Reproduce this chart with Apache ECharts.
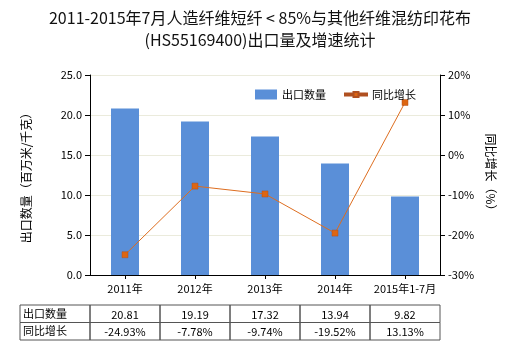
<!DOCTYPE html>
<html><head><meta charset="utf-8">
<script src="https://cdn.jsdelivr.net/npm/echarts@6/dist/echarts.min.js"></script>
<style>html,body{margin:0;padding:0;background:#fff}#c{width:520px;height:350px}</style>
</head><body><div id="c"></div>
<script>
var categories = ['2011年','2012年','2013年','2014年','2015年1-7月'];
var exportQty = [20.81, 19.19, 17.32, 13.94, 9.82];
var yoyGrowth = [-24.93, -7.78, -9.74, -19.52, 13.13];
var qtyLabels = ['20.81','19.19','17.32','13.94','9.82'];
var yoyLabels = ['-24.93%','-7.78%','-9.74%','-19.52%','13.13%'];
var seriesNames = ['出口数量','同比增长'];

var font = '"Noto Sans CJK SC", sans-serif';
var chart = echarts.init(document.getElementById('c'));
var G = {left: 90, top: 75, width: 350, height: 200};
var tableTop = 305, rowH = 17.5, firstColLeft = 20;

var graphics = [];
var cellW = G.width / categories.length;
var rows = [[seriesNames[0], qtyLabels], [seriesNames[1], yoyLabels]];
rows.forEach(function(r, i){
  var y = tableTop + i*rowH;
  graphics.push({type:'rect', shape:{x:firstColLeft, y:y, width:G.left-firstColLeft, height:rowH}, style:{fill:'none', stroke:'#555', lineWidth:1}});
  graphics.push({type:'text', style:{text:r[0], x:firstColLeft+3, y:y+rowH/2, textVerticalAlign:'middle', font:'11px '+font, fill:'#000'}});
  r[1].forEach(function(t, j){
    var x = G.left + j*cellW;
    graphics.push({type:'rect', shape:{x:x, y:y, width:cellW, height:rowH}, style:{fill:'none', stroke:'#555', lineWidth:1}});
    graphics.push({type:'text', style:{text:t, x:x+cellW/2, y:y+rowH/2+1, textAlign:'center', textVerticalAlign:'middle', font:'11px '+font, fill:'#000'}});
  });
});

var lineIcon = 'path://M0,1.5 L8.5,1.5 L8.5,0 L13.5,0 L13.5,1.5 L22,1.5 L22,3.5 L13.5,3.5 L13.5,5 L8.5,5 L8.5,3.5 L0,3.5 Z';

chart.setOption({
  animation:false,
  title:{text:'2011-2015年7月人造纤维短纤 < 85%与其他纤维混纺印花布\n(HS55169400)出口量及增速统计', left:'center', top:2,
    textStyle:{fontSize:16, fontWeight:'normal', color:'#111', fontFamily:font, lineHeight:22}},
  legend:{top:84, left:250, itemGap:18, itemWidth:22, itemHeight:10, symbolKeepAspect:true,
    textStyle:{fontSize:11, color:'#000', fontFamily:font},
    data:[{name:seriesNames[0], icon:'rect'}, {name:seriesNames[1], icon:lineIcon}]},
  grid:G,
  xAxis:{type:'category', data:categories,
    axisLine:{lineStyle:{color:'#000'}}, axisTick:{show:true, alignWithLabel:true, length:4, lineStyle:{color:'#000'}},
    axisLabel:{interval:0, fontSize:11, color:'#000', fontFamily:font, margin:8}},
  yAxis:[
    {type:'value', min:0, max:25, interval:5, name:'出口数量（百万米/千克）', nameLocation:'middle', nameRotate:90, nameGap:58,
     nameTextStyle:{fontSize:12, color:'#000', fontFamily:font},
     axisLine:{show:true, lineStyle:{color:'#000'}}, axisTick:{show:true, length:5, lineStyle:{color:'#000'}},
     axisLabel:{formatter:function(v){return v.toFixed(1);}, fontSize:11, color:'#000', fontFamily:font},
     splitLine:{lineStyle:{color:'#ebebdc', type:'solid'}}},
    {type:'value', min:-30, max:20, interval:10, name:'同比增长（%）', nameLocation:'middle', nameRotate:-90, nameGap:42,
     nameTextStyle:{fontSize:12, color:'#000', fontFamily:font},
     axisLine:{show:true, lineStyle:{color:'#000'}}, axisTick:{show:true, length:5, lineStyle:{color:'#000'}},
     axisLabel:{formatter:'{value}%', fontSize:11, color:'#000', fontFamily:font},
     splitLine:{show:false}}
  ],
  series:[
    {name:seriesNames[0], type:'bar', data:exportQty, barWidth:28, itemStyle:{color:'#5a8fd8'}},
    {name:seriesNames[1], type:'line', yAxisIndex:1, data:yoyGrowth, symbol:'rect', symbolSize:6,
     lineStyle:{color:'#dd6d1f', width:1}, itemStyle:{color:'#dd6612', borderColor:'#b05020', borderWidth:0.5}}
  ],
  graphic:graphics
});
</script></body></html>
